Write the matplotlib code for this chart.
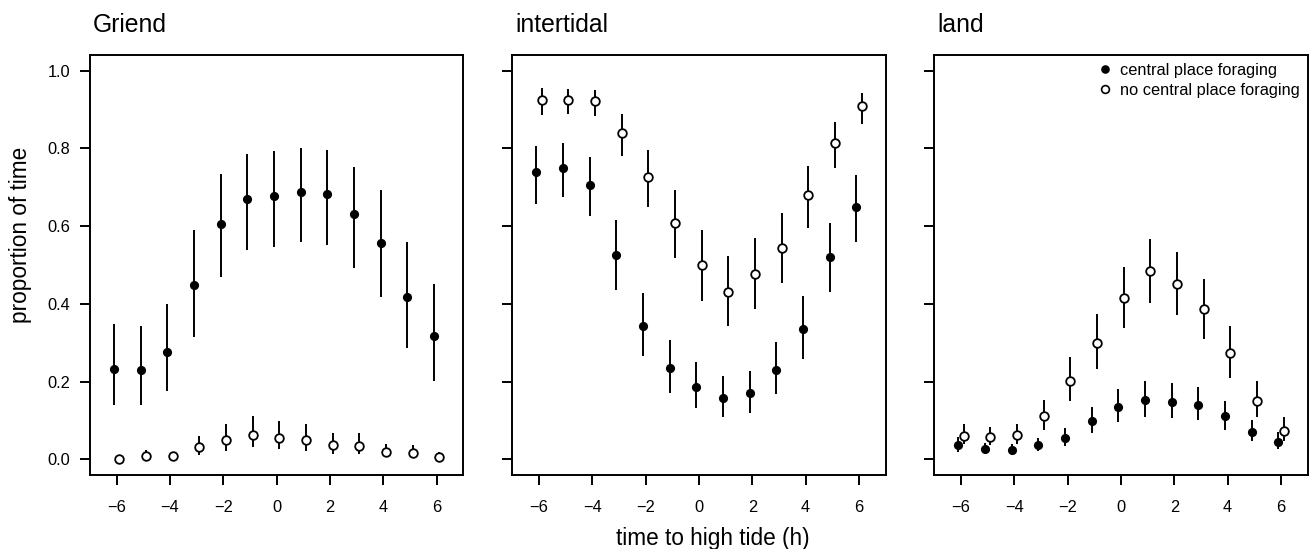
import numpy as np
import matplotlib
matplotlib.use("Agg")
import matplotlib.pyplot as plt
from matplotlib.lines import Line2D

plt.rcParams["font.family"] = ["Liberation Sans", "DejaVu Sans"]

hours = np.arange(-6, 7)

# Griend
griend_cpf = [0.232, 0.230, 0.277, 0.449, 0.606, 0.669, 0.678, 0.689, 0.683, 0.630, 0.557, 0.417, 0.317]
griend_cpf_lo = [0.141, 0.141, 0.175, 0.316, 0.468, 0.538, 0.547, 0.560, 0.552, 0.492, 0.418, 0.286, 0.202]
griend_cpf_hi = [0.349, 0.343, 0.401, 0.590, 0.734, 0.786, 0.792, 0.800, 0.796, 0.753, 0.692, 0.558, 0.451]
griend_ncpf = [0.002, 0.009, 0.008, 0.031, 0.050, 0.063, 0.054, 0.050, 0.036, 0.035, 0.019, 0.016, 0.007]
griend_ncpf_lo = [0.000, 0.003, 0.002, 0.012, 0.022, 0.031, 0.026, 0.022, 0.015, 0.014, 0.007, 0.005, 0.001]
griend_ncpf_hi = [0.008, 0.024, 0.016, 0.060, 0.090, 0.113, 0.098, 0.090, 0.067, 0.067, 0.041, 0.037, 0.020]

# intertidal
inter_cpf = [0.738, 0.750, 0.707, 0.527, 0.344, 0.235, 0.187, 0.158, 0.170, 0.231, 0.336, 0.520, 0.650]
inter_cpf_lo = [0.658, 0.676, 0.627, 0.437, 0.266, 0.172, 0.133, 0.110, 0.120, 0.169, 0.259, 0.430, 0.560]
inter_cpf_hi = [0.807, 0.815, 0.778, 0.616, 0.429, 0.307, 0.250, 0.214, 0.228, 0.302, 0.420, 0.608, 0.732]
inter_ncpf = [0.925, 0.925, 0.921, 0.840, 0.726, 0.607, 0.499, 0.431, 0.478, 0.545, 0.679, 0.813, 0.908]
inter_ncpf_lo = [0.886, 0.889, 0.884, 0.781, 0.648, 0.517, 0.408, 0.343, 0.388, 0.453, 0.594, 0.749, 0.863]
inter_ncpf_hi = [0.955, 0.953, 0.949, 0.889, 0.797, 0.692, 0.589, 0.522, 0.569, 0.633, 0.755, 0.867, 0.942]

# land
land_cpf = [0.038, 0.027, 0.024, 0.036, 0.056, 0.098, 0.135, 0.153, 0.148, 0.141, 0.111, 0.071, 0.045]
land_cpf_lo = [0.020, 0.015, 0.012, 0.021, 0.035, 0.067, 0.096, 0.110, 0.106, 0.101, 0.077, 0.047, 0.026]
land_cpf_hi = [0.058, 0.043, 0.039, 0.056, 0.081, 0.134, 0.180, 0.202, 0.196, 0.187, 0.150, 0.101, 0.070]
land_ncpf = [0.060, 0.057, 0.062, 0.112, 0.203, 0.300, 0.416, 0.485, 0.451, 0.386, 0.273, 0.151, 0.073]
land_ncpf_lo = [0.039, 0.037, 0.039, 0.077, 0.151, 0.232, 0.339, 0.403, 0.371, 0.310, 0.210, 0.109, 0.047]
land_ncpf_hi = [0.091, 0.084, 0.091, 0.154, 0.263, 0.374, 0.496, 0.566, 0.533, 0.465, 0.343, 0.201, 0.108]

panels = [
    ("Griend", griend_cpf, griend_cpf_lo, griend_cpf_hi, griend_ncpf, griend_ncpf_lo, griend_ncpf_hi),
    ("intertidal", inter_cpf, inter_cpf_lo, inter_cpf_hi, inter_ncpf, inter_ncpf_lo, inter_ncpf_hi),
    ("land", land_cpf, land_cpf_lo, land_cpf_hi, land_ncpf, land_ncpf_lo, land_ncpf_hi),
]

W, H = 1310, 549
fig = plt.figure(figsize=(W / 100, H / 100), dpi=100)

lw = 1.4
lefts = [90, 512.3, 934.3]
for i, (name, cm, clo, chi, nm, nlo, nhi) in enumerate(panels):
    ax = fig.add_axes([lefts[i] / W, 74 / H, 373.3 / W, 420 / H])
    xc = hours - 0.1
    xn = hours + 0.1
    ax.vlines(xc, clo, chi, color="black", lw=lw, zorder=2)
    ax.vlines(xn, nlo, nhi, color="black", lw=lw, zorder=2)
    ax.plot(xc, cm, "o", color="black", ms=6.6, mew=0, zorder=3)
    ax.plot(xn, nm, "o", mfc="white", mec="black", ms=6.2, mew=1.3, zorder=3)
    ax.set_xlim(-7, 7)
    ax.set_ylim(-0.04, 1.04)
    ax.set_xticks([-6, -4, -2, 0, 2, 4, 6])
    ax.set_yticks([0, 0.2, 0.4, 0.6, 0.8, 1.0])
    if i == 0:
        ax.set_yticklabels(["0.0", "0.2", "0.4", "0.6", "0.8", "1.0"])
    else:
        ax.set_yticklabels([])
    ax.tick_params(axis="both", direction="out", length=7.2, width=lw, labelsize=11.8)
    ax.tick_params(axis="x", pad=10.5)
    ax.tick_params(axis="y", pad=7)
    for s in ax.spines.values():
        s.set_linewidth(lw)
    ax.text(0.008, 1 + 23 / 420, name, transform=ax.transAxes, fontsize=17.8,
            ha="left", va="baseline")
    if i == 2:
        handles = [
            Line2D([], [], ls="none", marker="o", color="black", ms=6.2, mew=0),
            Line2D([], [], ls="none", marker="o", mfc="white", mec="black", ms=5.6, mew=1.2),
        ]
        ax.legend(handles, ["central place foraging", "no central place foraging"],
                  loc="upper right", frameon=False, fontsize=11.8, handlelength=0.8,
                  handletextpad=0.5, borderaxespad=0.2, labelspacing=0.3,
                  borderpad=0.3)

fig.text(713 / W, 4 / H, "time to high tide (h)", ha="center", va="baseline", fontsize=16.3)
fig.text(20.5 / W, (H - 235) / H, "proportion of time", rotation=90, ha="center",
         va="center", fontsize=16.3)

fig.savefig("out.png", dpi=100)
